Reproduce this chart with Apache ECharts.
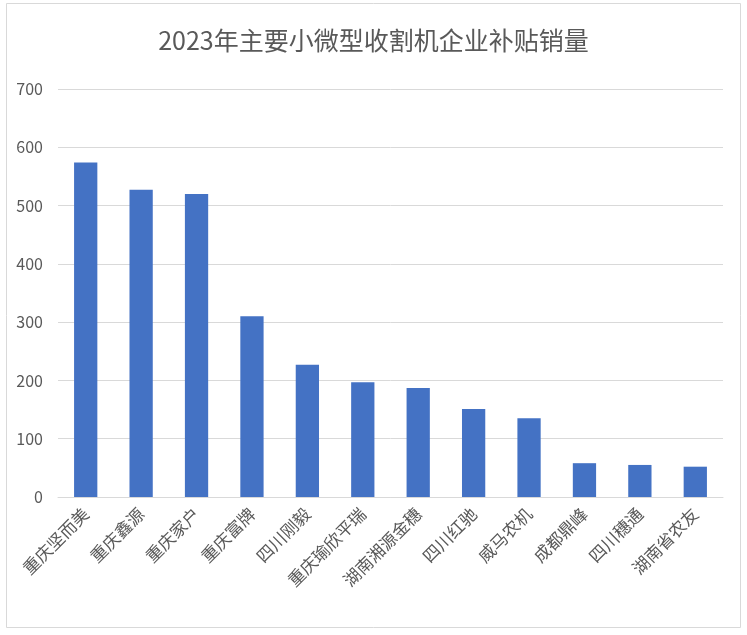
<!DOCTYPE html>
<html>
<head>
<meta charset="utf-8">
<script src="https://cdn.jsdelivr.net/npm/echarts@6/dist/echarts.min.js"></script>
<style>
  html, body { margin: 0; padding: 0; background: #fff; }
  #chart { width: 747px; height: 635px; }
</style>
</head>
<body>
<div id="chart"></div>
<script>
// 企业名称与补贴销量
const companies = ['重庆坚而美', '重庆鑫源', '重庆家户', '重庆富牌', '四川刚毅', '重庆瑜欣平瑞',
    '湖南湘源金穗', '四川红驰', '威马农机', '成都鼎峰', '四川穗通', '湖南省农友'];
const sales = [574, 527, 520, 310, 227, 197, 187, 151, 135, 58, 55, 52];
const yTicks = [0, 100, 200, 300, 400, 500, 600, 700];

const chart = echarts.init(document.getElementById('chart'));
const font = '"Noto Sans CJK SC", "Noto Sans", sans-serif';

const option = {
    backgroundColor: '#fff',
    title: {
        text: '2023年主要小微型收割机企业补贴销量',
        left: 'center',
        top: 23,
        textStyle: { fontFamily: font, fontSize: 25, fontWeight: 'normal', color: '#595959' }
    },
    // 外边框
    graphic: [{
        type: 'rect',
        shape: { x: 6.5, y: 3.5, width: 734, height: 624 },
        style: { fill: 'none', stroke: '#d9d9d9', lineWidth: 1 },
        silent: true
    }],
    grid: { left: 58, right: 24, top: 89, bottom: 138 },
    xAxis: {
        type: 'category',
        data: companies,
        axisLine: { lineStyle: { color: '#d9d9d9', width: 1 } },
        axisTick: { show: false },
        axisLabel: {
            rotate: 45,
            interval: 0,
            margin: 14,
            fontFamily: font,
            fontSize: 17,
            color: '#595959'
        }
    },
    yAxis: {
        type: 'value',
        min: yTicks[0],
        max: yTicks[yTicks.length - 1],
        interval: 100,
        axisLine: { show: false },
        axisTick: { show: false },
        splitLine: { lineStyle: { color: '#d9d9d9', width: 1 } },
        axisLabel: { fontFamily: font, fontSize: 16, color: '#595959', margin: 15 }
    },
    series: [{
        type: 'bar',
        data: sales,
        barWidth: '42%',
        itemStyle: { color: '#4472c4' }
    }]
};

chart.setOption(option);
</script>
</body>
</html>
